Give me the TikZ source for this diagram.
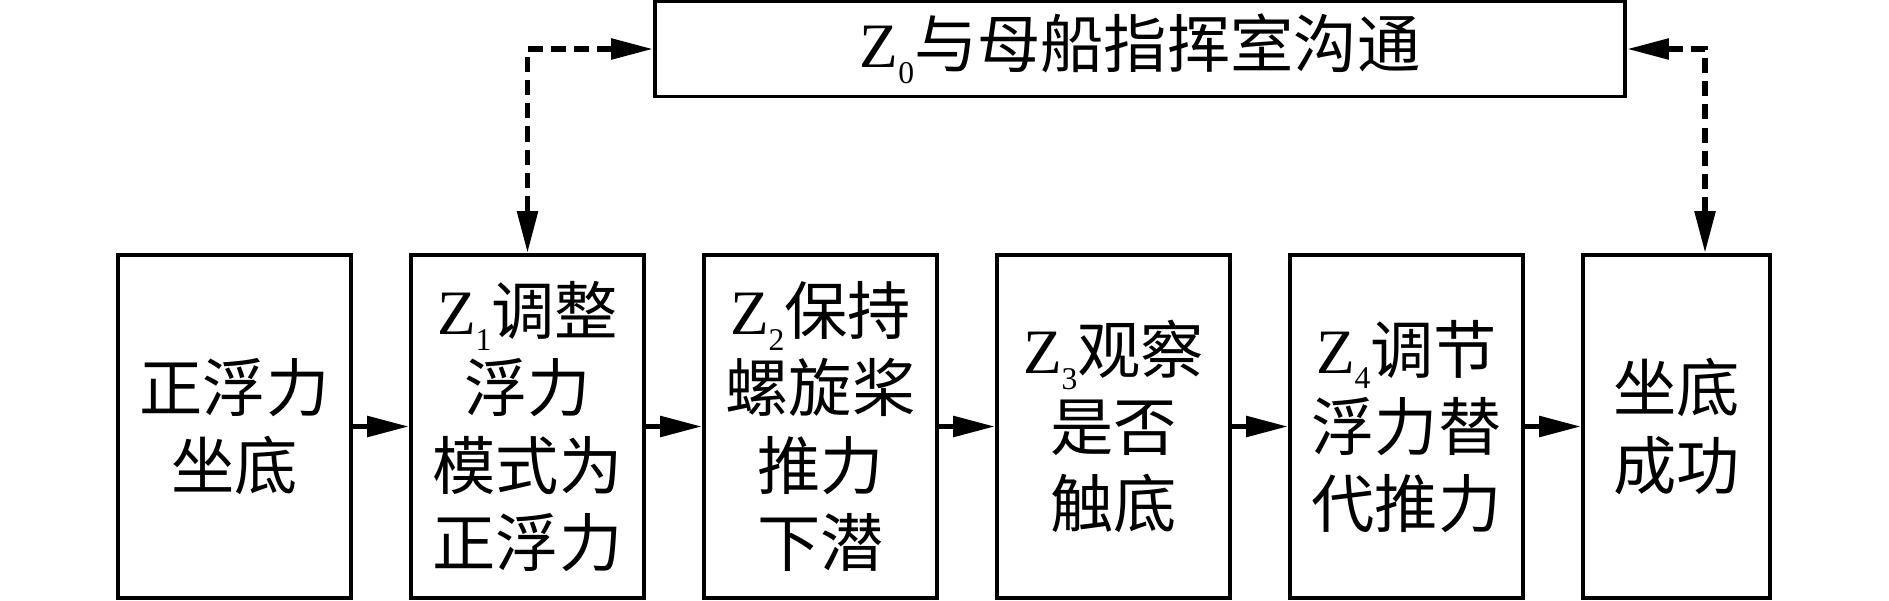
\documentclass[tikz,border=0pt]{standalone}
\usepackage{fontspec}
\setmainfont{Liberation Serif}
\newfontfamily\cjk{Noto Sans CJK SC}
\usetikzlibrary{arrows.meta}
\newcommand{\zsub}[1]{{\rmfamily Z\raisebox{-4.5pt}{\fontsize{9}{9}\selectfont #1}}}

\begin{document}
\begin{tikzpicture}[
  phase/.style={draw, line width=1.1pt, inner sep=0pt, minimum width=2.33cm, minimum height=3.43cm, align=center, font=\cjk\fontsize{18}{22}\selectfont},
  flow/.style={-{Triangle[length=0.42cm,width=0.2cm]}, line width=1.6pt},
  talk/.style={{Triangle[length=0.42cm,width=0.2cm]}-{Triangle[length=0.42cm,width=0.2cm]}, line width=1.6pt, dash pattern=on 4.3pt off 2.3pt}]
\useasboundingbox (0,0) rectangle (18.89,6);
% die Schritte
\node[phase] (p0) at (2.345,1.735) {正浮力\\坐底};
\node[phase] (p1) at (5.275,1.735) {\zsub{1}调整\\浮力\\模式为\\正浮力};
\node[phase] (p2) at (8.205,1.735) {\zsub{2}保持\\螺旋桨\\推力\\下潜};
\node[phase] (p3) at (11.135,1.735) {\zsub{3}观察\\是否\\触底};
\node[phase] (p4) at (14.065,1.735) {\zsub{4}调节\\浮力替\\代推力};
\node[phase, minimum width=1.87cm] (p5) at (16.765,1.735) {坐底\\成功};
\node[phase, minimum width=9.70cm, minimum height=0.95cm] (z0) at (11.40,5.51) {\zsub{0}与母船指挥室沟通};
% Pfeile
\draw[flow] (p0) -- (p1);
\draw[flow] (p1) -- (p2);
\draw[flow] (p2) -- (p3);
\draw[flow] (p3) -- (p4);
\draw[flow] (p4) -- (p5);
\draw[talk] (z0.west) -| (p1.north);
\draw[talk] (z0.east) -| ([xshift=0.285cm]p5.north);
\end{tikzpicture}
\end{document}
